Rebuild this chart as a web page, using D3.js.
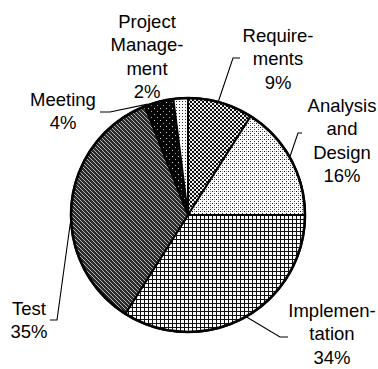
<!DOCTYPE html>
<html>
<head>
<meta charset="utf-8">
<script src="https://cdn.jsdelivr.net/npm/d3@7"></script>
<style>
  html, body { margin: 0; padding: 0; background: #fff; }
  svg text { font-family: "Liberation Sans", Arial, sans-serif; font-size: 18.5px; fill: #000; }
</style>
</head>
<body>
<svg id="chart" width="378" height="369"></svg>
<script>
// chart data
const categories = ["Requirements", "Analysis and Design", "Implementation", "Test", "Meeting", "Project Management"]
const values = [9, 16, 34, 35, 4, 2]
const labelLines = [
  ["Require-", "ments"],
  ["Analysis", "and", "Design"],
  ["Implemen-", "tation"],
  ["Test"],
  ["Meeting"],
  ["Project", "Manage-", "ment"]
]

// label placement: text centre, first baseline, leader elbow and the angle where it meets the pie
const layout = {
  "Requirements":        { x: 278, y: 42,  leader: [[240, 58], [233, 58]],   angle: 15 },
  "Analysis and Design": { x: 342, y: 112, leader: [[302, 133], [298, 133]], angle: 60 },
  "Implementation":      { x: 332, y: 317, leader: [[288, 337], [280, 337]], angle: 150 },
  "Test":                { x: 29,  y: 315, leader: [[50, 320], [57, 320]],   angle: 266 },
  "Meeting":             { x: 63,  y: 106, leader: [[100, 112], [110, 112]], angle: 340 },
  "Project Management":  { x: 147, y: 28,  leader: null }
}
const fills = ["url(#pReq)", "url(#pAD)", "url(#pImpl)", "url(#pTest)", "url(#pMeet)", "url(#pPM)"]

const svg = d3.select("#chart")
const cx = 188, cy = 215, radius = 117, lineHeight = 23.3

//
// patterns
//
const defs = svg.append("defs")

function pattern(id, size, bg) {
  const p = defs.append("pattern")
      .attr("id", id)
      .attr("patternUnits", "userSpaceOnUse")
      .attr("width", size)
      .attr("height", size)
  p.append("rect").attr("width", size).attr("height", size).attr("fill", bg)
  return p
}

// requirements: coarse dots
let p = pattern("pReq", 4, "#fff")
p.append("circle").attr("cx", 1).attr("cy", 1).attr("r", 1.15).attr("fill", "#000")
p.append("circle").attr("cx", 3).attr("cy", 3).attr("r", 1.15).attr("fill", "#000")

// analysis and design: sparse fine dots
p = pattern("pAD", 4, "#fff")
p.append("rect").attr("x", 0).attr("y", 0).attr("width", 1).attr("height", 1).attr("fill", "#111")
p.append("rect").attr("x", 2).attr("y", 2).attr("width", 1).attr("height", 1).attr("fill", "#333")
p.append("rect").attr("x", 2).attr("y", 0).attr("width", 1).attr("height", 1).attr("fill", "#999")

// implementation: grid
p = pattern("pImpl", 4, "#fff")
p.append("rect").attr("x", 0).attr("y", 0).attr("width", 4).attr("height", 1).attr("fill", "#111")
p.append("rect").attr("x", 0).attr("y", 0).attr("width", 1).attr("height", 4).attr("fill", "#111")

// test: dark weave
p = pattern("pTest", 4, "#2a2a2a")
p.append("path").attr("d", "M0,1 L2,3 M2,-1 L4,1 M-2,3 L0,5 M2,3 L3,4")
    .attr("stroke", "#c8c8c8").attr("stroke-width", 0.9).attr("fill", "none")

// meeting: black with white specks
p = pattern("pMeet", 6, "#050505")
p.append("rect").attr("x", 2).attr("y", 1).attr("width", 1).attr("height", 1).attr("fill", "#ddd")
p.append("rect").attr("x", 5).attr("y", 4).attr("width", 1).attr("height", 1).attr("fill", "#aaa")

// project management: light dots
p = pattern("pPM", 3, "#fff")
p.append("rect").attr("x", 0).attr("y", 0).attr("width", 1).attr("height", 1).attr("fill", "#333")

//
// pie
//
const pie = d3.pie().sort(null).value(d => d)
const arc = d3.arc().innerRadius(0).outerRadius(radius)
const arcs = pie(values)

const g = svg.append("g").attr("transform", `translate(${cx},${cy})`)

g.selectAll("path.slice")
  .data(arcs)
  .enter().append("path")
    .attr("class", "slice")
    .attr("d", arc)
    .attr("fill", (d, i) => fills[i])
    .attr("stroke", "#000")
    .attr("stroke-width", 2)
    .attr("stroke-linejoin", "round")

g.append("circle")
    .attr("r", radius)
    .attr("fill", "none")
    .attr("stroke", "#000")
    .attr("stroke-width", 2.6)

//
// labels and leaders
//
const line = d3.line()

categories.forEach(function (c, i) {
  const L = layout[c]
  if (L.leader) {
    const a = L.angle * Math.PI / 180
    const end = [cx + (radius + 1) * Math.sin(a), cy - (radius + 1) * Math.cos(a)]
    svg.append("path")
        .attr("d", line(L.leader.concat([end])))
        .attr("fill", "none")
        .attr("stroke", "#000")
        .attr("stroke-width", 1.1)
  }

  const t = svg.append("text")
      .attr("text-anchor", "middle")
  const lines = labelLines[i].concat([values[i] + "%"])
  lines.forEach(function (s, j) {
    t.append("tspan")
        .attr("x", L.x)
        .attr("y", L.y + j * lineHeight)
        .text(s)
  })
})
</script>
</body>
</html>
